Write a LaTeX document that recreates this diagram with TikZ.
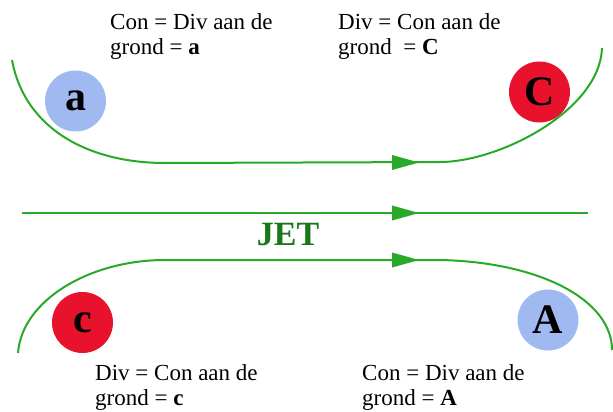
\documentclass[tikz,border=0pt]{standalone}
\usepackage{fontspec}
\setmainfont{Liberation Serif}
\definecolor{flow}{RGB}{40,170,40}
\definecolor{jetgreen}{RGB}{25,120,25}
\definecolor{lowblue}{RGB}{160,185,240}
\definecolor{highred}{RGB}{232,18,45}
\begin{document}
\begin{tikzpicture}[x=1pt,y=-1pt,
  flowline/.style={draw=flow,line width=2pt},
  tip/.style={fill=flow},
  lbl/.style={anchor=base west,inner sep=0pt,font=\fontsize{23}{25}\selectfont,align=left},
  centre/.style={circle,minimum size=61pt,inner sep=0pt,font=\fontsize{42}{42}\selectfont\bfseries}]
\useasboundingbox (0,0) rectangle (613,412);
% circles
\node[centre,fill=lowblue] (a) at (75.5,101) {a};
\node[centre,fill=highred] (C) at (539.5,92) {C};
\node[centre,fill=highred] (c) at (82.5,322.5) {c};
\node[centre,fill=lowblue] (A) at (548,320) {A};
% texts (anchor at baseline of the last line)
\node[lbl] (ta) at (110,55) {Con = Div aan de\\grond = \textbf{a}};
\node[lbl] (tC) at (338,55) {Div = Con aan de\\grond \ = \textbf{C}};
\node[lbl] (tc) at (95,405) {Div = Con aan de\\grond = \textbf{c}};
\node[lbl] (tA) at (362,405) {Con = Div aan de\\grond = \textbf{A}};
\node[anchor=base,inner sep=0pt,text=jetgreen,font=\fontsize{34}{34}\selectfont\bfseries] (jet) at (288,245) {JET};
% upper flow
\coordinate (u1) at (12,60);
\coordinate (u2) at (165,163);
\coordinate (u3) at (440,162);
\coordinate (u4) at (602,48);
\draw[flowline] (u1) .. controls (25,130) and (90,163) .. (u2) -- (u3) .. controls (500,162) and (600,110) .. (u4);
\fill[tip] (392,155) -- (419,162.5) -- (392,170) -- cycle;
% jet axis
\coordinate (m1) at (22,213);
\coordinate (m2) at (588,213);
\draw[flowline] (m1) -- (m2);
\fill[tip] (392,205.5) -- (419,213) -- (392,220.5) -- cycle;
% lower flow
\coordinate (l1) at (18,353);
\coordinate (l2) at (165,260);
\coordinate (l3) at (440,260);
\coordinate (l4) at (612,350);
\draw[flowline] (l1) .. controls (22,300) and (90,260) .. (l2) -- (l3) .. controls (540,262) and (612,300) .. (l4);
\fill[tip] (392,252.5) -- (419,260) -- (392,267.5) -- cycle;
\end{tikzpicture}
\end{document}
